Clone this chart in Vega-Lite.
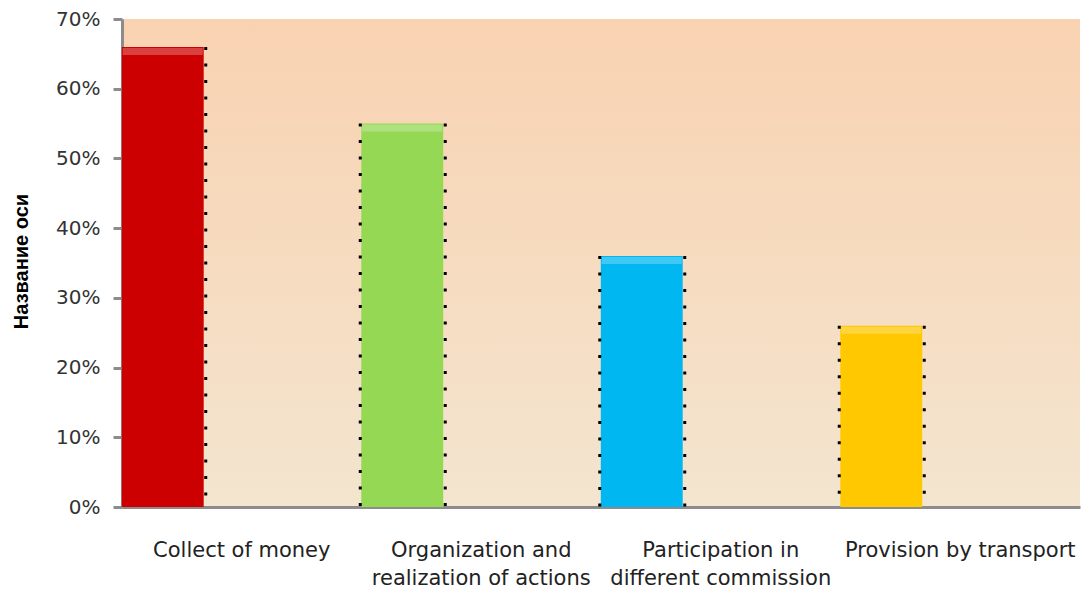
{
  "$schema": "https://vega.github.io/schema/vega-lite/v6.json",
  "autosize": {"type": "none"},
  "padding": {"left": 122, "top": 19, "right": 3, "bottom": 89},
  "width": 958,
  "height": 488,
  "background": "white",
  "config": {
    "view": {
      "stroke": null,
      "fill": {"gradient": "linear", "x1": 0, "y1": 0, "x2": 0, "y2": 1,
        "stops": [{"offset": 0, "color": "#f9d2b1"}, {"offset": 1, "color": "#f3e5cf"}]}
    },
    "font": "DejaVu Sans"
  },
  "data": {
    "values": [
      {"category": "Collect of money", "share": 0.66},
      {"category": "Organization and realization of actions", "share": 0.55},
      {"category": "Participation in different commission", "share": 0.36},
      {"category": "Provision by transport", "share": 0.26}
    ]
  },
  "encoding": {
    "x": {
      "field": "category", "type": "nominal", "sort": null,
      "scale": {"paddingInner": 0, "paddingOuter": 0},
      "axis": {
        "title": null, "labelAngle": 0, "ticks": false,
        "domainColor": "#8c8c8c", "domainWidth": 3,
        "labelFont": "DejaVu Sans", "labelFontSize": 21, "labelColor": "#222222",
        "labelPadding": 32, "labelLineHeight": 28, "labelBaseline": "top", "labelLimit": 0,
        "labelExpr": "datum.label == 'Organization and realization of actions' ? ['Organization and', 'realization of actions'] : datum.label == 'Participation in different commission' ? ['Participation in', 'different commission'] : datum.label"
      }
    },
    "y": {
      "field": "share", "type": "quantitative",
      "scale": {"domain": [0, 0.7]},
      "axis": {
        "title": "Название оси", "titleFont": "Liberation Sans", "titleFontSize": 20,
        "titleFontWeight": "bold", "titleColor": "#000000",
        "titleX": -101, "titleY": 242, "titleAngle": -90, "titleBaseline": "middle", "titleAlign": "center",
        "format": ".0%", "values": [0, 0.1, 0.2, 0.3, 0.4, 0.5, 0.6, 0.7],
        "grid": false, "domainColor": "#8c8c8c", "domainWidth": 3,
        "tickColor": "#8c8c8c", "tickWidth": 3, "tickSize": 9,
        "labelFont": "DejaVu Sans", "labelFontSize": 20, "labelColor": "#333333",
        "labelPadding": 13
      }
    }
  },
  "layer": [
    {
      "mark": {"type": "bar", "width": {"band": 0.342}, "xOffset": -79, "opacity": 1},
      "encoding": {
        "color": {
          "field": "category", "type": "nominal", "legend": null,
          "scale": {
            "domain": ["Collect of money", "Organization and realization of actions", "Participation in different commission", "Provision by transport"],
            "range": ["#cc0000", "#95d854", "#00b7f2", "#ffc800"]
          }
        }
      }
    },
    {
      "mark": {"type": "tick", "orient": "horizontal", "size": 80, "thickness": 7, "xOffset": -79, "yOffset": 4.5, "opacity": 0.25, "color": "#ffffff"},
      "encoding": {}
    },
    {
      "mark": {"type": "rule", "xOffset": -36, "strokeDash": [3, 13.5], "strokeWidth": 3, "color": "#000000"},
      "encoding": {"y2": {"datum": 0}}
    },
    {
      "transform": [{"filter": "datum.category != 'Collect of money'"}],
      "mark": {"type": "rule", "xOffset": -121, "strokeDash": [3, 13.5], "strokeWidth": 3, "color": "#000000"},
      "encoding": {"y2": {"datum": 0}}
    }
  ]
}
